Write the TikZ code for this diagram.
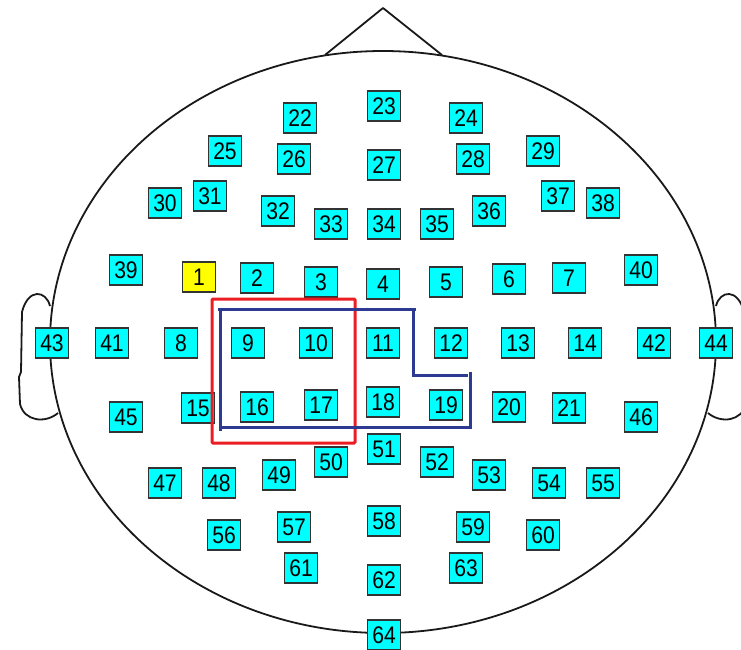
\documentclass[tikz,border=0pt]{standalone}
\usepackage{fontspec}
\newfontfamily\digitfont[FakeStretch=0.88]{Liberation Sans}
\definecolor{elecfill}{RGB}{0,255,255}
\definecolor{elecyellow}{RGB}{255,255,0}
\definecolor{roired}{RGB}{236,28,36}
\definecolor{roiblue}{RGB}{44,58,146}
\definecolor{headline}{RGB}{25,25,25}
\tikzset{
  elec/.style={draw=black!80, line width=1.2pt, fill=elecfill, minimum width=33pt, minimum height=30pt, inner sep=0pt, font=\digitfont\fontsize{24}{24}\selectfont, text=black},
  headstroke/.style={draw=headline, line width=1.8pt},
  redbox/.style={draw=roired, line width=3pt},
  blueline/.style={draw=roiblue, line width=3pt}
}
\begin{document}
\begin{tikzpicture}[x=1pt,y=-1pt]
\useasboundingbox (0,0) rectangle (741,649);
\clip (0,0) rectangle (741,649);
% head outline
\draw[headstroke] (383,342) ellipse [x radius=333, y radius=291];
% nose
\draw[headstroke, line join=round] (325,55) -- (383,8) -- (442,55);
% ears
\draw[headstroke, line join=round] (50,306) .. controls (46,290) and (28,288) .. (22,312) -- (21,372) -- (19,377) -- (20,404) .. controls (24,421) and (45,424) .. (58,413);
\draw[headstroke, line join=round] (716,306) .. controls (720,290) and (738,288) .. (744,312) -- (745,372) -- (747,377) -- (746,404) .. controls (742,421) and (721,424) .. (708,413);
% electrodes
\foreach \n/\x/\y in {
 22/300/118, 23/384/106, 24/466/118,
 25/225/151, 26/294/159, 27/384/165, 28/473/159, 29/543/151,
 30/165/203, 31/210/196, 32/278/211, 33/331/224, 34/384/224, 35/437/224, 36/489/211, 37/558/196, 38/603/203,
 39/126/270, 2/257/278, 3/321/282, 4/383/284, 5/446/282, 6/509/279, 7/569/278, 40/641/270,
 43/52/343, 41/112/343, 8/181/343, 9/248/343, 10/316/343, 11/383/343, 12/451/343, 13/518/343, 14/585/343, 42/654/343, 44/716/343,
 45/126/417, 15/198/408, 16/257/407, 17/321/405, 18/383/402, 19/446/405, 20/509/407, 21/569/408, 46/641/417,
 51/384/449, 50/331/462, 52/437/462, 49/279/475, 53/489/475, 47/165/483, 48/219/483, 54/549/483, 55/603/483,
 58/384/521, 57/294/527, 59/473/527, 56/224/535, 60/543/535,
 61/301/568, 63/466/568, 62/384/580, 64/384/635}
 {\node[elec] (n\n) at (\x,\y) {\n};}
\node[elec, fill=elecyellow] (n1) at (199,277) {1};
% regions of interest
\draw[redbox, rounded corners=1pt] (212,299) rectangle (355,443);
\draw[blueline] (218,309) -- (416,309);
\draw[blueline] (220,309) -- (220,431);
\draw[blueline] (413,309) -- (413,375) -- (468,375);
\draw[blueline] (470,372) -- (470,429);
\draw[blueline] (220,427) -- (470,427);
\end{tikzpicture}
\end{document}
